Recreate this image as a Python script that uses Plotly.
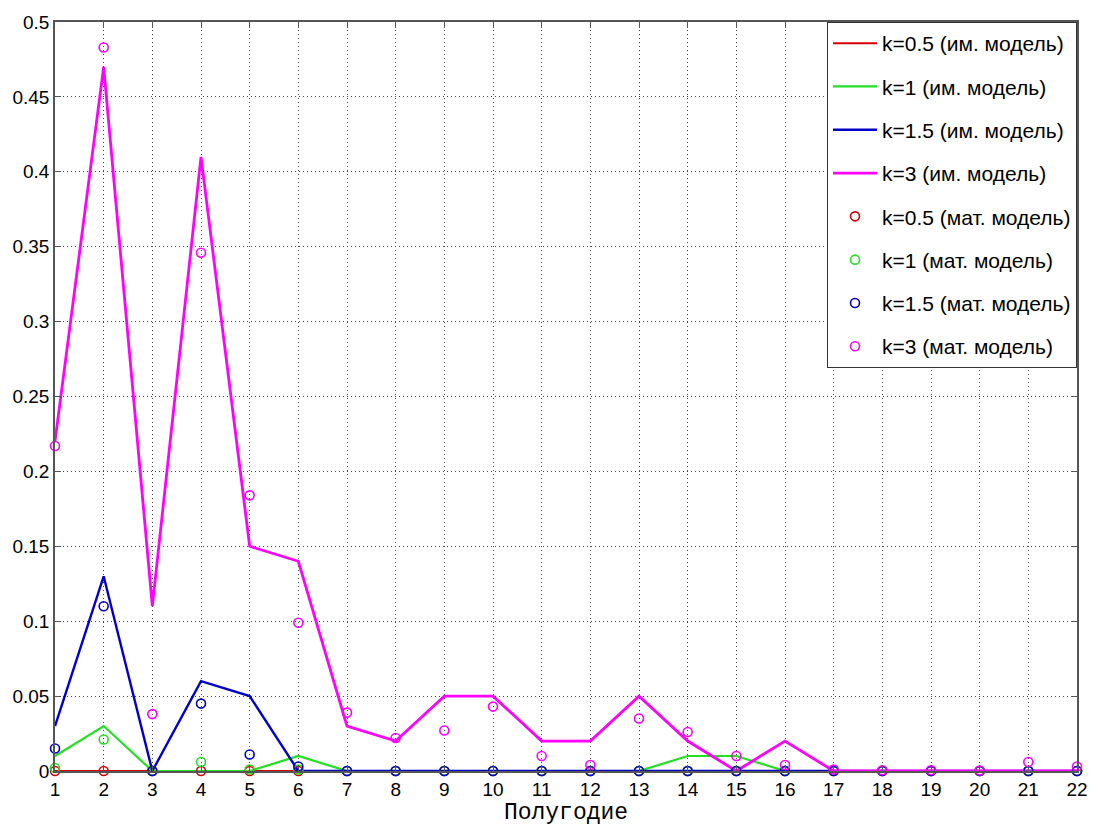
import plotly.graph_objects as go

x = list(range(1, 23))

# simulation model (lines)
sim_k05 = [0]*22
sim_k1 = [0.01, 0.03, 0, 0, 0, 0.01, 0, 0, 0, 0, 0, 0, 0, 0.01, 0.01, 0, 0, 0, 0, 0, 0, 0]
sim_k15 = [0.03, 0.13, 0, 0.06, 0.05, 0, 0, 0, 0, 0, 0, 0, 0, 0, 0, 0, 0, 0, 0, 0, 0, 0]
sim_k3 = [0.22, 0.47, 0.11, 0.41, 0.15, 0.14, 0.03, 0.02, 0.05, 0.05, 0.02, 0.02, 0.05, 0.02, 0, 0.02, 0, 0, 0, 0, 0, 0]

# mathematical model (markers)
mat_k05 = [0]*22
mat_k1 = [0.002, 0.021, 0, 0.006, 0.001, 0.001, 0, 0, 0, 0, 0, 0, 0, 0, 0, 0, 0, 0, 0, 0, 0, 0]
mat_k15 = [0.015, 0.11, 0, 0.045, 0.011, 0.003, 0, 0, 0, 0, 0, 0, 0, 0, 0, 0, 0, 0, 0, 0, 0, 0]
mat_k3 = [0.217, 0.483, 0.038, 0.346, 0.184, 0.099, 0.039, 0.022, 0.027, 0.043, 0.010, 0.004,
          0.035, 0.026, 0.010, 0.004, 0.001, 0.0005, 0.0005, 0.0003, 0.006, 0.003]

y_ticks = [0, 0.05, 0.1, 0.15, 0.2, 0.25, 0.3, 0.35, 0.4, 0.45, 0.5]
y_ticktext = ["0", "0.05", "0.1", "0.15", "0.2", "0.25", "0.3", "0.35", "0.4", "0.45", "0.5"]

RED, GREEN, BLUE, MAG = "#d40000", "#22e022", "#0000c8", "#ff00ff"

fig = go.Figure()
lines = [
    ("k=0.5 (им. модель)", sim_k05, RED, 2),
    ("k=1 (им. модель)", sim_k1, GREEN, 2.2),
    ("k=1.5 (им. модель)", sim_k15, BLUE, 2.4),
    ("k=3 (им. модель)", sim_k3, MAG, 2.8),
]
marks = [
    ("k=0.5 (мат. модель)", mat_k05, RED),
    ("k=1 (мат. модель)", mat_k1, GREEN),
    ("k=1.5 (мат. модель)", mat_k15, BLUE),
    ("k=3 (мат. модель)", mat_k3, MAG),
]
for i, (name, ys, col, w) in enumerate(lines):
    fig.add_trace(go.Scatter(x=x, y=ys, mode="lines", name=name,
                             line=dict(color=col, width=w),
                             legendgroup=f"g{i}", cliponaxis=False))
for j, (name, ys, col) in enumerate(marks):
    fig.add_trace(go.Scatter(x=x, y=ys, mode="markers", name=name,
                             marker=dict(symbol="circle-open", color=col, size=9,
                                         line=dict(width=1.6, color=col)),
                             legendgroup=f"m{j}", cliponaxis=False))

axis_common = dict(showline=True, linecolor="#555555", linewidth=1.5, mirror="ticks",
                   ticks="inside", ticklen=6, tickcolor="#555555",
                   showgrid=True, gridcolor="#444444", griddash="1px,3px", gridwidth=1,
                   zeroline=False,
                   tickfont=dict(family="Liberation Sans, Arial", size=19, color="black"))

fig.update_xaxes(range=[1, 22], tickvals=x, ticktext=[str(v) for v in x],
                 title=dict(text="Полугодие", font=dict(family="Liberation Mono, Courier New", size=23, color="black"),
                            standoff=0),
                 **axis_common)
fig.update_yaxes(range=[0, 0.5], tickvals=y_ticks, ticktext=y_ticktext, **axis_common)

fig.update_layout(
    width=1100, height=828,
    margin=dict(l=55, r=20, t=16, b=56),
    paper_bgcolor="white", plot_bgcolor="white",
    showlegend=True,
    legend=dict(x=1, y=1, xanchor="right", yanchor="top",
                bgcolor="white", bordercolor="#333333", borderwidth=1,
                font=dict(family="Liberation Sans, Arial", size=21, color="black"),
                traceorder="grouped", tracegroupgap=13, itemwidth=44),
)

fig.write_html("out.html")
